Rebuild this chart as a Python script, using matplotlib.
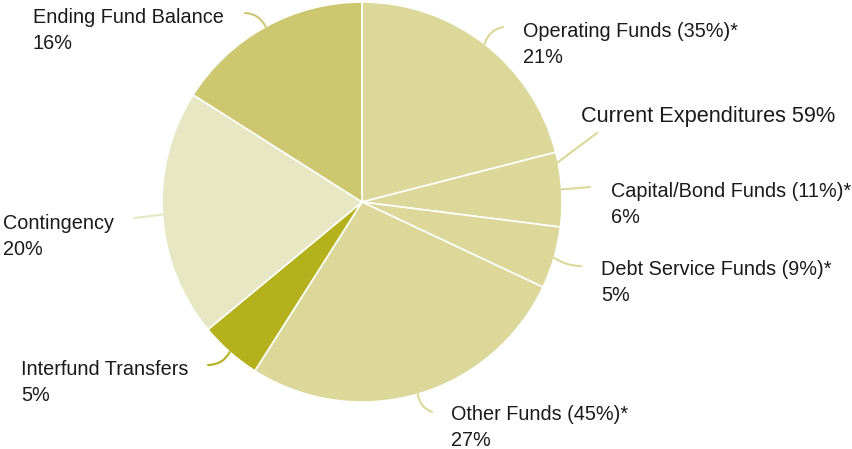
import matplotlib.pyplot as plt

plt.rcParams['font.family'] = ['Liberation Sans', 'DejaVu Sans']

# 데이터
names = ['Operating Funds (35%)*', 'Capital/Bond Funds (11%)*', 'Debt Service Funds (9%)*',
         'Other Funds (45%)*', 'Interfund Transfers', 'Contingency', 'Ending Fund Balance']
values = [21, 6, 5, 27, 5, 20, 16]
colors = ['#dcd899', '#dcd899', '#dcd899', '#dcd899', '#b4b21c', '#e7e7c4', '#cdc86f']
total_label = 'Current Expenditures 59%'

W, H = 853, 449
fig = plt.figure(figsize=(W / 100, H / 100), dpi=100)
ax = fig.add_axes([0, 0, 1, 1])

cx, cy, r = 362, H - 202, 200
wedges, _ = ax.pie(values, colors=colors, startangle=90, counterclock=False,
                   center=(cx, cy), radius=r, frame=True,
                   wedgeprops=dict(edgecolor='white', linewidth=1.2))
ax.set_xlim(0, W)
ax.set_ylim(0, H)
ax.axis('off')

# 라벨 위치 (픽셀, 위에서부터), 지시선 끝점, 곡률
text_pos = [(523, 37), (611, 197), (601, 275), (451, 420), (21, 375), (3, 229), (33, 23)]
line_end = [(503, 27), (590, 187), (581, 266), (432, 412), (208, 365), (135, 218), (245, 13)]
rads = [-0.3, 0, 0.15, 0.3, -0.3, 0, 0.3]

import numpy as np
for w, name, v, (tx, ty), (ex, ey), rad, c in zip(wedges, names, values, text_pos, line_end, rads, colors):
    mid = np.deg2rad((w.theta1 + w.theta2) / 2)
    sx, sy = cx + r * np.cos(mid), cy + r * np.sin(mid)
    ax.annotate('', xy=(ex, H - ey), xytext=(sx, sy),
                arrowprops=dict(arrowstyle='-', color=c, lw=1.5,
                                shrinkA=0, shrinkB=0,
                                connectionstyle=f'arc3,rad={rad}'))
    ax.text(tx, H - ty, name, fontsize=14.3, color='#1a1a1a', va='baseline', ha='left')
    ax.text(tx, H - ty - 26, f'{v}%', fontsize=14.3, color='#1a1a1a', va='baseline', ha='left')

# Current Expenditures 지시선
ang = np.deg2rad(12)
ax.plot([cx + r * np.cos(ang), 597], [cy + r * np.sin(ang) - 2, H - 133], color='#dcd899', lw=1.5)
ax.text(581, H - 122, total_label, fontsize=15.7, color='#1a1a1a', va='baseline', ha='left')

fig.savefig('out.png', dpi=100)
